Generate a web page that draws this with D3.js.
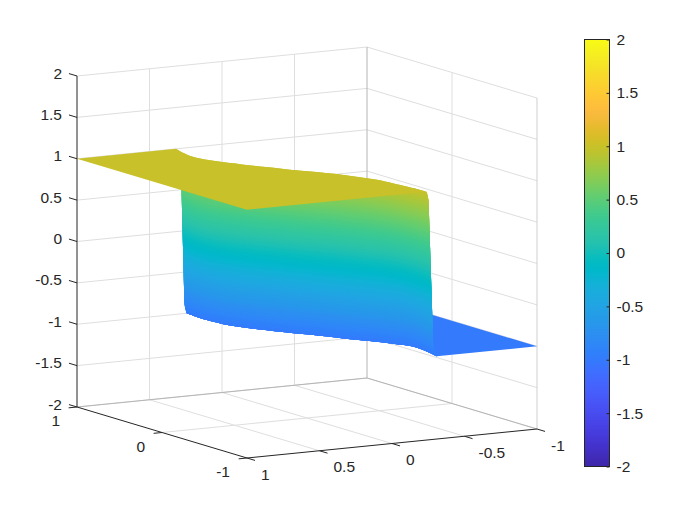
<!DOCTYPE html>
<html>
<head>
<meta charset="utf-8">
<script src="https://cdn.jsdelivr.net/npm/d3@7"></script>
<style>
  html, body { margin: 0; padding: 0; background: #fff; }
  text { font-family: "Liberation Sans", Arial, sans-serif; font-size: 15.5px; fill: #262626; }
</style>
</head>
<body>
<div id="chart"></div>
<script>
// surface: where the step sits in x, for each y, at four heights
var yGrid   = [1, 0.9, 0.75, 0.6, 0.5, 0.35, 0.2, 0, -0.2, -0.35, -0.5, -0.65, -0.8, -0.9, -1];
var xTop    = [0.318, 0.342, 0.365, 0.352, 0.315, 0.245, 0.165, 0.06, -0.07, -0.135, -0.19, -0.21, -0.226, -0.235, -0.24];
var xUpper  = [0.285, 0.31, 0.335, 0.325, 0.29, 0.225, 0.145, 0.04, -0.085, -0.15, -0.205, -0.222, -0.238, -0.247, -0.252];
var xLower  = [0.259, 0.268, 0.274, 0.26, 0.24, 0.18, 0.105, -0.015, -0.12, -0.21, -0.285, -0.338, -0.325, -0.305, -0.285];
var xBottom = [0.244, 0.252, 0.258, 0.245, 0.225, 0.165, 0.09, -0.03, -0.135, -0.225, -0.30, -0.355, -0.345, -0.328, -0.308];
var zRows   = [1, 0.9, -0.9, -1];
var zHigh = 1, zLow = -1;

var xTicks = [1, 0.5, 0, -0.5, -1];
var yTicks = [1, 0, -1];
var zTicks = [-2, -1.5, -1, -0.5, 0, 0.5, 1, 1.5, 2];

var parula = [
  [0.2422,0.1504,0.6603],[0.2504,0.1650,0.7076],[0.2578,0.1818,0.7511],[0.2647,0.1978,0.7952],
  [0.2706,0.2147,0.8364],[0.2751,0.2342,0.8710],[0.2783,0.2559,0.8991],[0.2803,0.2782,0.9221],
  [0.2813,0.3006,0.9414],[0.2810,0.3228,0.9579],[0.2795,0.3447,0.9717],[0.2760,0.3667,0.9829],
  [0.2699,0.3892,0.9906],[0.2602,0.4123,0.9952],[0.2440,0.4358,0.9988],[0.2206,0.4603,0.9973],
  [0.1963,0.4847,0.9892],[0.1834,0.5074,0.9798],[0.1786,0.5289,0.9682],[0.1764,0.5499,0.9520],
  [0.1687,0.5703,0.9359],[0.1540,0.5902,0.9218],[0.1460,0.6091,0.9079],[0.1380,0.6276,0.8973],
  [0.1248,0.6459,0.8883],[0.1113,0.6635,0.8763],[0.0952,0.6798,0.8598],[0.0689,0.6948,0.8394],
  [0.0297,0.7082,0.8163],[0.0036,0.7203,0.7917],[0.0067,0.7312,0.7660],[0.0433,0.7411,0.7394],
  [0.0964,0.7500,0.7120],[0.1408,0.7584,0.6842],[0.1717,0.7670,0.6554],[0.1938,0.7758,0.6251],
  [0.2161,0.7843,0.5923],[0.2470,0.7918,0.5567],[0.2906,0.7973,0.5188],[0.3406,0.8008,0.4789],
  [0.3909,0.8029,0.4354],[0.4456,0.8024,0.3909],[0.5044,0.7993,0.3480],[0.5616,0.7942,0.3045],
  [0.6174,0.7876,0.2612],[0.6720,0.7793,0.2227],[0.7242,0.7698,0.1910],[0.7738,0.7598,0.1646],
  [0.8203,0.7498,0.1535],[0.8634,0.7406,0.1596],[0.9035,0.7330,0.1774],[0.9393,0.7288,0.2100],
  [0.9728,0.7298,0.2394],[0.9956,0.7434,0.2371],[0.9970,0.7659,0.2199],[0.9952,0.7893,0.2028],
  [0.9892,0.8136,0.1885],[0.9786,0.8386,0.1766],[0.9676,0.8639,0.1643],[0.9610,0.8890,0.1537],
  [0.9597,0.9135,0.1423],[0.9628,0.9373,0.1265],[0.9691,0.9606,0.1064],[0.9769,0.9839,0.0805]
];

var width = 700, height = 525;
var ink = '#262626', gridColor = '#dedede', boxColor = '#b4b4b4', edgeColor = '#cfcfcf';

var toRgb = function(c) {
  return d3.rgb(c[0] * 255, c[1] * 255, c[2] * 255).formatHex();
};
var colorAt = d3.scaleLinear()
  .domain(d3.range(64).map(function(i) { return -2 + 4 * i / 63; }))
  .range(parula.map(toRgb))
  .interpolate(d3.interpolateRgb);

// box projection: one scale per axis, in pixels along that axis' edge
var sx = d3.scaleLinear().domain([1, -1]).range([0, 1]);
var sy = d3.scaleLinear().domain([-1, 1]).range([0, 1]);
var sz = d3.scaleLinear().domain([-2, 2]).range([0, 1]);
var front = [247, 458], xEdge = [290, -29], yEdge = [-170, -51], zEdge = [0, -331];

var project = function(x, y, z) {
  var u = sx(x), v = sy(y), w = sz(z);
  return [front[0] + u * xEdge[0] + v * yEdge[0] + w * zEdge[0],
          front[1] + u * xEdge[1] + v * yEdge[1] + w * zEdge[1]];
};

var line = d3.line();
var curve = d3.line().curve(d3.curveCatmullRom.alpha(0.5));

var svg = d3.select('#chart').append('svg').attr('width', width).attr('height', height)
  .style('display', 'block');
var defs = svg.append('defs');

var seg = function(a, b, color, w) {
  svg.append('path').attr('d', line([a, b])).attr('fill', 'none')
    .attr('stroke', color).attr('stroke-width', w || 1);
};

// two straight corners closed by the smooth edge of the step
var plateau = function(xs, z, x0, color) {
  var edge = curve(yGrid.map(function(y, i) { return project(xs[i], y, z); }));
  svg.append('path')
    .attr('d', line([project(x0, -1, z), project(x0, 1, z)]) + 'L' + edge.slice(1) + 'Z')
    .attr('fill', color);
};

// back walls and floor
zTicks.forEach(function(z) {
  seg(project(1, 1, z), project(-1, 1, z), gridColor);
  seg(project(-1, 1, z), project(-1, -1, z), gridColor);
});
xTicks.slice(1, 4).forEach(function(x) {
  seg(project(x, 1, -2), project(x, 1, 2), gridColor);
  seg(project(x, -1, -2), project(x, 1, -2), gridColor);
});
yTicks.slice(1, 2).forEach(function(y) {
  seg(project(-1, y, -2), project(-1, y, 2), gridColor);
  seg(project(1, y, -2), project(-1, y, -2), gridColor);
});
seg(project(-1, 1, -2), project(-1, 1, 2), boxColor);
seg(project(1, 1, -2), project(-1, 1, -2), boxColor);
seg(project(-1, 1, -2), project(-1, -1, -2), boxColor);
seg(project(-1, -1, -2), project(-1, -1, 2), edgeColor);

// low plateau, behind the wall
plateau(xBottom, zLow, -1, colorAt(zLow));

// wall: overlapping strips painted from high to low, each one shaded by its height
var rows = [xTop, xUpper, xLower, xBottom];
var xAt = yGrid.map(function(y, i) {
  return d3.scaleLinear().domain(zRows).range(rows.map(function(r) { return r[i]; }));
});
var isoLine = function(z) {
  return yGrid.map(function(y, i) { return project(xAt[i](z), y, z); });
};
var stripZ = d3.range(zHigh, zLow, -0.02);
svg.append('g').selectAll('path').data(stripZ).enter().append('path')
  .attr('d', function(z) {
    var z2 = Math.max(z - 0.1, zLow);
    return curve(isoLine(z)) + 'L' + curve(isoLine(z2).reverse()).slice(1) + 'Z';
  })
  .attr('fill', function(z) { return colorAt(z - 0.01); });

// high plateau, in front of the wall
plateau(xTop, zHigh, 1, colorAt(zHigh));

// front axes
seg(project(1, 1, -2), project(1, 1, 2), ink);
seg(project(1, 1, -2), project(1, -1, -2), ink);
seg(project(1, -1, -2), project(-1, -1, -2), ink);

var tickLen = 8.4 / Math.hypot(yEdge[0], yEdge[1]);
var tickX = 8.4 / Math.hypot(xEdge[0], xEdge[1]);

zTicks.forEach(function(z) {
  var p = project(1, 1, z);
  seg(p, [p[0] + yEdge[0] * tickLen, p[1] + yEdge[1] * tickLen], ink);
  svg.append('text').text(z).attr('x', p[0] - 15).attr('y', p[1] - 3)
    .attr('text-anchor', 'end').attr('dominant-baseline', 'central');
});
xTicks.forEach(function(x) {
  var p = project(x, -1, -2);
  seg(p, [p[0] - yEdge[0] * tickLen, p[1] - yEdge[1] * tickLen], ink);
  svg.append('text').text(x).attr('x', p[0] + 14).attr('y', p[1] + 16)
    .attr('text-anchor', 'start').attr('dominant-baseline', 'central');
});
yTicks.forEach(function(y) {
  var p = project(1, y, -2);
  seg(p, [p[0] - xEdge[0] * tickX, p[1] - xEdge[1] * tickX], ink);
  svg.append('text').text(y).attr('x', p[0] - 17).attr('y', p[1] + 13.5)
    .attr('text-anchor', 'end').attr('dominant-baseline', 'central');
});

// colorbar
var cbX = 584.5, cbW = 25;
var cbScale = d3.scaleLinear().domain([-2, 2]).range([466.5, 39.5]);
var cbGrad = defs.append('linearGradient').attr('id', 'cb')
  .attr('x1', 0).attr('y1', 1).attr('x2', 0).attr('y2', 0);
cbGrad.selectAll('stop').data(parula).enter().append('stop')
  .attr('offset', function(d, i) { return i / 63; })
  .attr('stop-color', toRgb);
svg.append('rect').attr('x', cbX).attr('y', cbScale(2)).attr('width', cbW)
  .attr('height', cbScale(-2) - cbScale(2))
  .attr('fill', 'url(#cb)').attr('stroke', ink).attr('stroke-width', 1);

var cbAxis = svg.append('g').attr('transform', 'translate(' + (cbX + cbW) + ',0)')
  .call(d3.axisRight(cbScale).tickValues(zTicks).tickSize(-3).tickPadding(7)
    .tickFormat(function(d) { return String(d); }));
cbAxis.select('.domain').remove();
cbAxis.selectAll('line').attr('stroke', ink);
cbAxis.selectAll('text').style('fill', ink);
cbAxis.attr('font-family', null).attr('font-size', null);
</script>
</body>
</html>
